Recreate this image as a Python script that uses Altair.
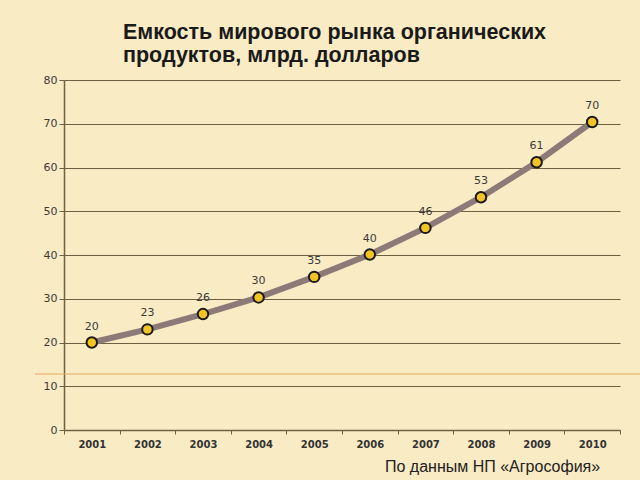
import altair as alt
import pandas as pd

years = ["2001", "2002", "2003", "2004", "2005", "2006", "2007", "2008", "2009", "2010"]
values = [20, 23, 26.5, 30.3, 35, 40.1, 46.2, 53.2, 61.2, 70.4]
labels = ["20", "23", "26", "30", "35", "40", "46", "53", "61", "70"]
title_lines = ["Емкость мирового рынка органических", "продуктов, млрд. долларов"]
source_text = "По данным НП «Агрософия»"

df = pd.DataFrame({"year": years, "value": values, "label": labels})

FONT = "Liberation Sans"
TICKFONT = "DejaVu Sans"
GRID = "#6b6142"

x_enc = alt.X("year:N", title=None, sort=years,
              scale=alt.Scale(paddingInner=0, paddingOuter=0),
              axis=alt.Axis(labelAngle=0, labelFontWeight="bold", labelFontSize=10,
                            labelColor="#333333", labelFont=TICKFONT, tickBand="extent",
                            tickColor=GRID, tickSize=4, domainColor=GRID,
                            domainWidth=1.5, labelPadding=5))
y_enc = alt.Y("value:Q", title=None,
              scale=alt.Scale(domain=[0, 80], nice=False),
              axis=alt.Axis(values=[0, 10, 20, 30, 40, 50, 60, 70, 80], grid=True,
                            gridColor=GRID, gridWidth=1.2, gridOpacity=1,
                            domainColor=GRID, domainWidth=1.5, tickColor=GRID,
                            tickSize=5, labelFontSize=11, labelColor="#3a3a3a",
                            labelFont=TICKFONT, labelPadding=2))

base = alt.Chart(df)

line = base.mark_line(color="#8C7A78", strokeWidth=6).encode(x=x_enc, y=y_enc)
points = base.mark_point(filled=True, fill="#F2C325", stroke="#1a1a1a",
                         strokeWidth=2, size=110, opacity=1).encode(x=x_enc, y=y_enc)
texts = base.mark_text(dy=-16, fontSize=11, color="#3a3a3a", font=TICKFONT).encode(
    x=x_enc, y=y_enc, text="label:N")

deco = alt.Chart(pd.DataFrame({"a": [0]})).mark_rule(
    color="#E8A860", strokeWidth=1).encode(
    x=alt.value(-29), x2=alt.value(576), y=alt.value(294))

source = alt.Chart(pd.DataFrame({"t": [source_text]})).mark_text(
    fontSize=16, font=FONT, color="#222222", align="left", baseline="middle").encode(
    x=alt.value(321), y=alt.value(387), text="t:N")

title = alt.Chart(pd.DataFrame({"t": [title_lines]})).mark_text(
    fontSize=21.5, font=FONT, fontWeight="bold", color="#1a1a1a", align="left",
    baseline="alphabetic", lineHeight=23).encode(
    x=alt.value(59), y=alt.value(-41), text="t:N")

chart = alt.layer(deco, line, points, texts, source, title).properties(
    width=556, height=350,
    padding={"left": 64, "top": 80, "right": 20, "bottom": 50},
    autosize=alt.AutoSizeParams(type="none"),
    background="#F9EBC4",
).configure_view(stroke=None)

chart.save("out.html", embed_options={"renderer": "svg", "actions": False})
